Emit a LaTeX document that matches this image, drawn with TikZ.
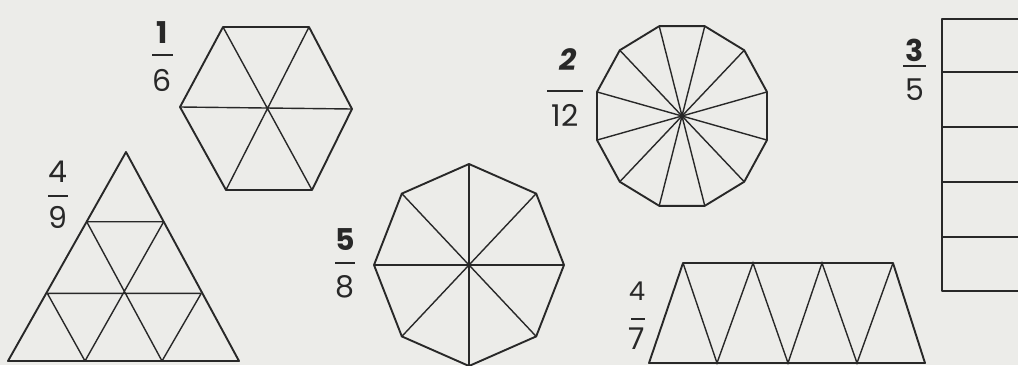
\documentclass[tikz,border=0pt]{standalone}
\usepackage{fontspec}
\setmainfont{Poppins}
\definecolor{paper}{RGB}{236,236,233}
\definecolor{ink}{RGB}{40,40,40}
\begin{document}
\begin{tikzpicture}[x=1pt,y=-1pt,
  outline/.style={draw=ink,line width=1.9pt,line join=round},
  inner/.style={draw=ink,line width=1.4pt},
  num/.style={text=ink,font=\fontsize{30}{30}\selectfont,inner sep=0pt},
  numb/.style={text=ink,font=\fontsize{30}{30}\selectfont\bfseries,inner sep=0pt},
  den/.style={text=ink,font=\fontsize{30}{30}\selectfont,inner sep=0pt},
  fbar/.style={draw=ink,line width=1.4pt}]
\useasboundingbox (0,0) rectangle (1018,365);
\fill[paper] (0,0) rectangle (1018,365);
\clip (0,0) rectangle (1018,365);

% ---------- hexagon 1/6 ----------
\coordinate (hc) at (267,108);
\coordinate (h1) at (223,27);
\coordinate (h2) at (309,27);
\coordinate (h3) at (352,109);
\coordinate (h4) at (312,190);
\coordinate (h5) at (226,190);
\coordinate (h6) at (180,107);
\draw[inner] (h1) -- (h4) (h2) -- (h5) (h3) -- (h6);
\draw[outline] (h1) -- (h2) -- (h3) -- (h4) -- (h5) -- (h6) -- cycle;
\node[numb] (n16) at (162,33) {1};
\node[den] (d16) at (162,80) {6};
\draw[fbar] (152,55) -- (173,55);

% ---------- triangle 4/9 ----------
\coordinate (tA) at (126,152);
\coordinate (tL) at (8,361);
\coordinate (tR) at (239,361);
\coordinate (L1) at (86.7,221.7);
\coordinate (L2) at (47.3,293.3);
\coordinate (R1) at (163.7,221.7);
\coordinate (R2) at (201.3,293.3);
\coordinate (B1) at (85,361);
\coordinate (B2) at (162,361);
\draw[inner] (L1) -- (R1) (L2) -- (R2) (L1) -- (B2) (L2) -- (B1) (R1) -- (B1) (R2) -- (B2);
\draw[outline] (tA) -- (tL) -- (tR) -- cycle;
\node[num] (n49) at (58,172) {4};
\node[den] (d49) at (58,217) {9};
\draw[fbar] (48,196) -- (68,196);

% ---------- octagon 5/8 ----------
\begin{scope}[shift={(469,265)}]
  \foreach \a in {0,45,90,135} {
    \draw[inner] ({95*cos(\a)},{-101*sin(\a)}) -- ({95*cos(\a+180)},{-101*sin(\a+180)});
  }
  \draw[outline] (0:95 and 101) \foreach \a in {45,90,...,315} { -- ({95*cos(\a)},{101*sin(\a)}) } -- cycle;
\end{scope}
\node[numb] (n58) at (345,240) {5};
\node[den] (d58) at (345,287) {8};
\draw[fbar] (335,263) -- (355,263);

% ---------- dodecagon 2/12 ----------
\begin{scope}[shift={(682,116)}]
  \foreach \a in {15,45,...,165} {
    \draw[inner] ({88*cos(\a)},{93*sin(\a)}) -- ({88*cos(\a+180)},{93*sin(\a+180)});
  }
  \draw[outline] ({88*cos(15)},{93*sin(15)}) \foreach \a in {45,75,...,345} { -- ({88*cos(\a)},{93*sin(\a)}) } -- cycle;
\end{scope}
\node[numb,font=\fontsize{30}{30}\selectfont\bfseries\itshape] (n212) at (568,60) {2};
\node[den] (d212) at (565,115) {12};
\draw[fbar] (547,91) -- (583,91);

% ---------- rectangle 3/5 ----------
\draw[inner] (942,72) -- (1030,72) (942,127) -- (1030,127) (942,182) -- (1030,182) (942,237) -- (1030,237);
\draw[outline] (1030,19) -- (942,19) -- (942,291) -- (1030,291);
\node[numb] (n35) at (915,50) {3};
\node[den] (d35) at (915,90) {5};
\draw[fbar] (903,66) -- (926,66);

% ---------- trapezoid 4/7 ----------
\draw[inner] (683,263) -- (717,363) -- (753,263) -- (788,363) -- (822,263) -- (857,363) -- (893,263);
\draw[outline] (649,363) -- (683,263) -- (893,263) -- (925,363) -- cycle;
\node[num,font=\fontsize{26}{26}\selectfont] (n47) at (637,291) {4};
\node[den] (d47) at (637,339) {7};
\draw[fbar] (631,319) -- (645,319);
\end{tikzpicture}
\end{document}
